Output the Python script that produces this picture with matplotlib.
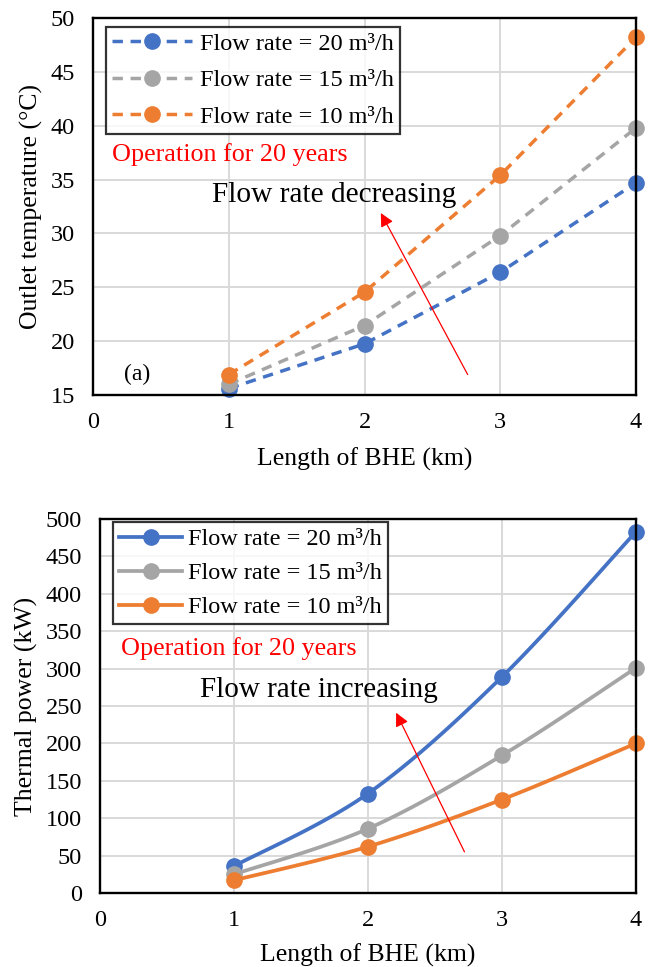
import numpy as np
import matplotlib
matplotlib.use("Agg")
import matplotlib.pyplot as plt

plt.rcParams['font.family'] = ['Liberation Serif', 'DejaVu Serif']

lengths = [1, 2, 3, 4]
labels = ["Flow rate = 20 m³/h", "Flow rate = 15 m³/h", "Flow rate = 10 m³/h"]
colors = ["#4472C4", "#A5A5A5", "#ED7D31"]

# Outlet temperature (°C)
temp_20 = [15.6, 19.75, 26.4, 34.7]
temp_15 = [16.0, 21.45, 29.8, 39.8]
temp_10 = [16.9, 24.55, 35.4, 48.2]

# Thermal power (kW)
power_20 = [36, 133, 289, 483]
power_15 = [25, 86, 184, 301]
power_10 = [17, 62, 125, 200]


def smooth(x, y, n=40):
    """Catmull-Rom style curve through the points (like a smoothed spreadsheet line)."""
    x = np.asarray(x, float)
    y = np.asarray(y, float)
    xs, ys = [], []
    for i in range(len(x) - 1):
        p0 = np.array([x[i - 1], y[i - 1]]) if i > 0 else np.array([x[i], y[i]])
        p1 = np.array([x[i], y[i]])
        p2 = np.array([x[i + 1], y[i + 1]])
        p3 = np.array([x[i + 2], y[i + 2]]) if i + 2 < len(x) else p2
        c1 = p1 + (p2 - p0) / 6.0
        c2 = p2 - (p3 - p1) / 6.0
        t = np.linspace(0, 1, n)[:, None]
        pts = ((1 - t) ** 3) * p1 + 3 * ((1 - t) ** 2) * t * c1 + 3 * (1 - t) * t ** 2 * c2 + t ** 3 * p2
        xs.extend(pts[:, 0])
        ys.extend(pts[:, 1])
    return np.array(xs), np.array(ys)


fig = plt.figure(figsize=(6.5, 9.67), dpi=100)
ax1 = fig.add_axes([93 / 650, 1 - 395 / 967, (636 - 93) / 650, (395 - 18) / 967])
ax2 = fig.add_axes([100 / 650, 1 - 893 / 967, (636 - 100) / 650, (893 - 519) / 967])

TICK = 17.5
LABEL = 18.5
LEG = 17.5
MS = 11

for ax in (ax1, ax2):
    ax.grid(True, color="#D9D9D9", linewidth=1.4)
    ax.set_axisbelow(True)
    for s in ax.spines.values():
        s.set_linewidth(1.7)
        s.set_color("black")
    ax.tick_params(length=0, labelsize=TICK)
    ax.tick_params(axis="x", pad=12)
    ax.tick_params(axis="y", pad=13)
    ax.set_xlim(0, 4)
    ax.set_xticks([0, 1, 2, 3, 4])

# Top panel: outlet temperature
for y, c, lab in zip([temp_20, temp_15, temp_10], colors, labels):
    ax1.plot(lengths, y, linestyle=(0, (3.0, 2.2)), color=c, linewidth=2.5,
             marker="o", markersize=MS, label=lab, clip_on=False)
ax1.set_ylim(15, 50)
ax1.set_yticks(range(15, 51, 5))
ax1.set_xlabel("Length of BHE (km)", fontsize=LABEL, labelpad=11)
ax1.set_ylabel("Outlet temperature (°C)", fontsize=LABEL, labelpad=5)
leg1 = ax1.legend(loc="upper left", bbox_to_anchor=(0.024, 0.977), fontsize=LEG,
                  frameon=True, fancybox=False, edgecolor="black", handlelength=3.3,
                  borderpad=0.25, labelspacing=0.6, handletextpad=0.3, borderaxespad=0)
leg1.get_frame().set_linewidth(1.6)
ax1.text(0.14, 37.3, "Operation for 20 years", color="red", fontsize=18.8, va="center")
ax1.text(0.88, 33.6, "Flow rate decreasing", color="black", fontsize=21.2, va="center")
ax1.text(0.23, 16.9, "(a)", color="black", fontsize=17, va="center")
ax1.annotate("", xy=(2.12, 31.9), xytext=(2.76, 16.9),
             arrowprops=dict(arrowstyle="-|>", color="red", lw=0.9,
                             mutation_scale=20, shrinkA=0, shrinkB=0))

# Bottom panel: thermal power
for y, c, lab in zip([power_20, power_15, power_10], colors, labels):
    sx, sy = smooth(lengths, y)
    ax2.plot(sx, sy, color=c, linewidth=2.7, clip_on=False)
    ax2.plot(lengths, y, linestyle="none", color=c, marker="o", markersize=MS, clip_on=False)
    ax2.plot([], [], color=c, linewidth=2.7, marker="o", markersize=MS, label=lab)
ax2.set_ylim(0, 500)
ax2.set_yticks(range(0, 501, 50))
ax2.set_xlabel("Length of BHE (km)", fontsize=LABEL, labelpad=9)
ax2.set_ylabel("Thermal power (kW)", fontsize=LABEL, labelpad=5)
leg2 = ax2.legend(loc="upper left", bbox_to_anchor=(0.024, 0.992), fontsize=LEG,
                  frameon=True, fancybox=False, edgecolor="black", handlelength=2.6,
                  borderpad=0.25, labelspacing=0.5, handletextpad=0.25, borderaxespad=0)
leg2.get_frame().set_linewidth(1.6)
ax2.text(0.157, 327, "Operation for 20 years", color="red", fontsize=18.8, va="center")
ax2.text(0.75, 272, "Flow rate increasing", color="black", fontsize=21, va="center")
ax2.annotate("", xy=(2.21, 241), xytext=(2.72, 55),
             arrowprops=dict(arrowstyle="-|>", color="red", lw=0.9,
                             mutation_scale=20, shrinkA=0, shrinkB=0))

fig.savefig("out.png", dpi=100)
